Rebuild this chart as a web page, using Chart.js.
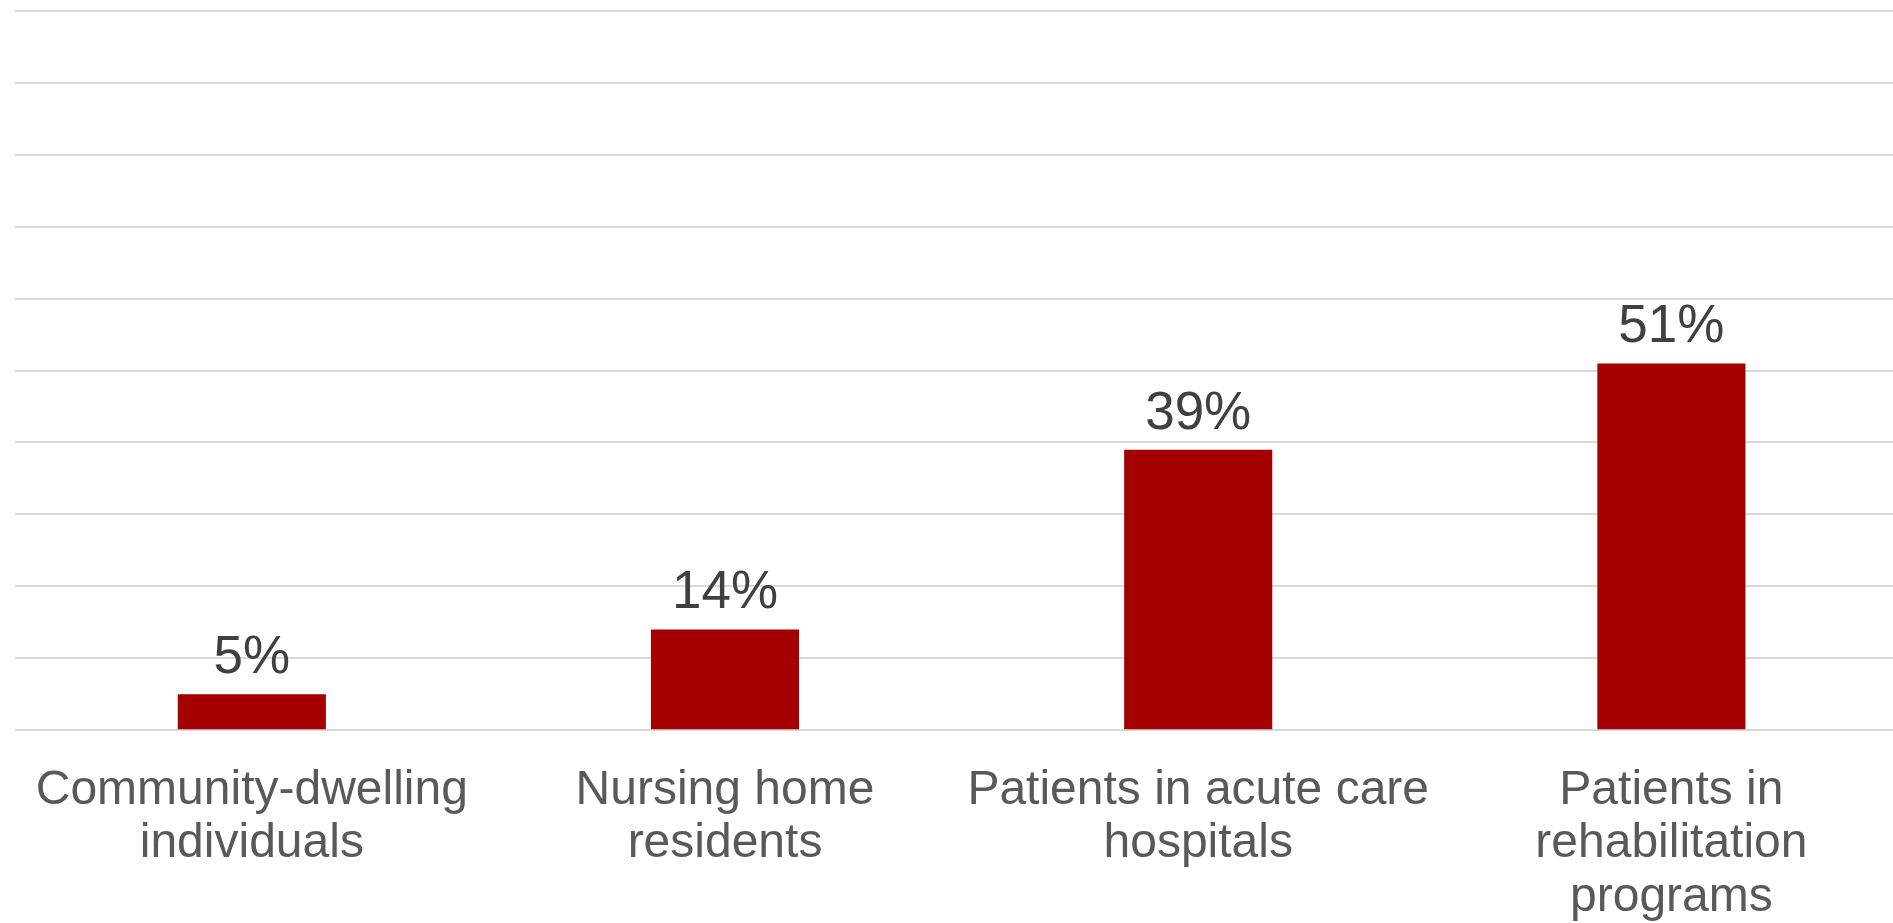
<!DOCTYPE html>
<html>
<head>
<meta charset="utf-8">
<script src="https://cdn.jsdelivr.net/npm/chart.js@4/dist/chart.umd.min.js"></script>
<style>
  html, body { margin: 0; padding: 0; background: #ffffff; overflow: hidden; }
  #wrap { width: 1908px; height: 958px; }
</style>
</head>
<body>
<div id="wrap"><canvas id="chart" width="1908" height="958"></canvas></div>
<script>
// share of each population group (%)
const categories = [
  ["Community-dwelling", "individuals"],
  ["Nursing home", "residents"],
  ["Patients in acute care", "hospitals"],
  ["Patients in", "rehabilitation", "programs"]
];
const values = [5, 14, 39, 51];
const yTicks = [0, 10, 20, 30, 40, 50, 60, 70, 80, 90, 100];

const FONT = "'Liberation Sans', Arial, sans-serif";

// percentage text above every bar
const valueLabels = {
  id: "valueLabels",
  afterDatasetsDraw(chart) {
    const ctx = chart.ctx;
    const meta = chart.getDatasetMeta(0);
    ctx.save();
    ctx.font = "53px " + FONT;
    ctx.fillStyle = "#404040";
    ctx.textAlign = "center";
    ctx.textBaseline = "alphabetic";
    meta.data.forEach((bar, i) => {
      ctx.fillText(values[i] + "%", bar.x, bar.y - 21);
    });
    ctx.restore();
  }
};

new Chart(document.getElementById("chart"), {
  type: "bar",
  data: {
    labels: categories,
    datasets: [{
      data: values,
      backgroundColor: "#a50000",
      categoryPercentage: 1,
      barPercentage: 0.313
    }]
  },
  plugins: [valueLabels],
  options: {
    responsive: false,
    animation: false,
    layout: { padding: { left: 14, top: 11, right: 0, bottom: 0 } },
    plugins: {
      legend: { display: false },
      tooltip: { enabled: false }
    },
    scales: {
      x: {
        grid: { display: false, drawTicks: false },
        border: { display: false },
        ticks: {
          color: "#595959",
          padding: 34,
          maxRotation: 0,
          autoSkip: false,
          font: { family: FONT, size: 48, lineHeight: 1.11 }
        }
      },
      y: {
        min: 0,
        max: 100,
        afterBuildTicks(axis) {
          axis.ticks = yTicks.map((v) => ({ value: v }));
        },
        grid: { color: "#d9d9d9", lineWidth: 2, drawTicks: false },
        border: { display: false },
        ticks: { display: false }
      }
    }
  }
});
</script>
</body>
</html>
